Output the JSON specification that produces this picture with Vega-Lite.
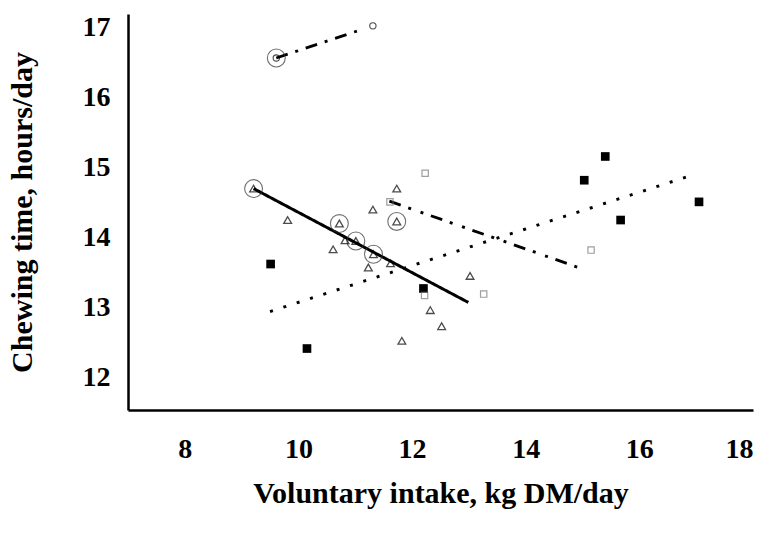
{
  "$schema": "https://vega.github.io/schema/vega-lite/v6.json",
  "width": 625,
  "height": 396,
  "autosize": {"type": "none"},
  "padding": {"left": 128, "top": 14, "right": 16, "bottom": 125},
  "background": "white",
  "config": {
    "view": {"stroke": null},
    "axis": {
      "grid": false,
      "ticks": false,
      "domainColor": "black",
      "domainWidth": 2.5,
      "labelFont": "Liberation Serif",
      "labelFontWeight": "bold",
      "labelFontSize": 28,
      "labelColor": "black",
      "titleFont": "Liberation Serif",
      "titleFontWeight": "bold",
      "titleFontSize": 30,
      "titleColor": "black"
    }
  },
  "datasets": {
    "points": [
      {"x": 9.21, "y": 14.70, "group": "A", "ring": true},
      {"x": 9.81, "y": 14.25, "group": "A", "ring": false},
      {"x": 10.72, "y": 14.20, "group": "A", "ring": true},
      {"x": 10.82, "y": 13.96, "group": "A", "ring": false},
      {"x": 11.01, "y": 13.95, "group": "A", "ring": true},
      {"x": 10.61, "y": 13.83, "group": "A", "ring": false},
      {"x": 11.32, "y": 13.76, "group": "A", "ring": true},
      {"x": 11.31, "y": 14.40, "group": "A", "ring": false},
      {"x": 11.73, "y": 14.70, "group": "A", "ring": false},
      {"x": 11.73, "y": 14.23, "group": "A", "ring": true},
      {"x": 11.23, "y": 13.57, "group": "A", "ring": false},
      {"x": 11.62, "y": 13.63, "group": "A", "ring": false},
      {"x": 13.02, "y": 13.45, "group": "A", "ring": false},
      {"x": 12.32, "y": 12.96, "group": "A", "ring": false},
      {"x": 12.52, "y": 12.73, "group": "A", "ring": false},
      {"x": 11.82, "y": 12.52, "group": "A", "ring": false},
      {"x": 9.51, "y": 13.62, "group": "B", "ring": false},
      {"x": 10.15, "y": 12.41, "group": "B", "ring": false},
      {"x": 12.20, "y": 13.27, "group": "B", "ring": false},
      {"x": 15.03, "y": 14.82, "group": "B", "ring": false},
      {"x": 15.40, "y": 15.16, "group": "B", "ring": false},
      {"x": 15.67, "y": 14.25, "group": "B", "ring": false},
      {"x": 17.05, "y": 14.51, "group": "B", "ring": false},
      {"x": 11.61, "y": 14.51, "group": "C", "ring": false},
      {"x": 12.23, "y": 14.92, "group": "C", "ring": false},
      {"x": 12.22, "y": 13.17, "group": "C", "ring": false},
      {"x": 13.26, "y": 13.19, "group": "C", "ring": false},
      {"x": 15.15, "y": 13.82, "group": "C", "ring": false},
      {"x": 9.61, "y": 16.57, "group": "D", "ring": true},
      {"x": 11.31, "y": 17.03, "group": "D", "ring": false}
    ],
    "fits": [
      {"series": "A", "x": 9.21, "y": 14.70},
      {"series": "A", "x": 12.99, "y": 13.07},
      {"series": "B", "x": 9.50, "y": 12.94},
      {"series": "B", "x": 16.92, "y": 14.89},
      {"series": "C", "x": 11.60, "y": 14.52},
      {"series": "C", "x": 14.93, "y": 13.57},
      {"series": "D", "x": 9.61, "y": 16.57},
      {"series": "D", "x": 11.12, "y": 16.98}
    ],
    "xticks": [{"v": 8}, {"v": 10}, {"v": 12}, {"v": 14}, {"v": 16}, {"v": 18}],
    "yticks": [{"v": 12}, {"v": 13}, {"v": 14}, {"v": 15}, {"v": 16}, {"v": 17}]
  },
  "encoding": {
    "x": {
      "field": "x",
      "type": "quantitative",
      "scale": {"domain": [7, 18], "nice": false, "zero": false},
      "axis": {
        "values": [8, 10, 12, 14, 16, 18],
        "labelPadding": 47,
        "labelBaseline": "alphabetic",
        "title": "Voluntary intake, kg DM/day",
        "titleY": 83,
        "titleBaseline": "middle"
      }
    },
    "y": {
      "field": "y",
      "type": "quantitative",
      "scale": {"domain": [11.53, 17.2], "nice": false, "zero": false},
      "axis": {
        "values": [12, 13, 14, 15, 16, 17],
        "labelPadding": 18,
        "title": "Chewing time, hours/day",
        "titleAngle": -90,
        "titleX": -106,
        "titleY": 198,
        "titleAlign": "center",
        "titleBaseline": "middle"
      }
    }
  },
  "layer": [
    {
      "data": {"name": "xticks"},
      "mark": {"type": "rule", "color": "black", "strokeWidth": 2.5},
      "encoding": {
        "x": {"field": "v", "type": "quantitative"},
        "y": {"datum": 11.53, "type": "quantitative"},
        "y2": {"datum": 11.645}
      }
    },
    {
      "data": {"name": "yticks"},
      "mark": {"type": "rule", "color": "black", "strokeWidth": 2.5},
      "encoding": {
        "y": {"field": "v", "type": "quantitative"},
        "x": {"datum": 7, "type": "quantitative"},
        "x2": {"datum": 7.14}
      }
    },
    {
      "data": {"name": "fits"},
      "mark": {"type": "line", "color": "black", "strokeCap": "butt"},
      "encoding": {
        "detail": {"field": "series"},
        "strokeDash": {
          "field": "series",
          "type": "nominal",
          "scale": {"domain": ["A", "B", "C", "D"], "range": [[1, 0], [3, 11], [12, 8, 3, 10, 3, 8], [12, 8, 3, 8]]},
          "legend": null
        },
        "strokeWidth": {
          "field": "series",
          "type": "nominal",
          "scale": {"domain": ["A", "B", "C", "D"], "range": [3, 2.8, 2.8, 2.8]},
          "legend": null
        }
      }
    },
    {
      "data": {"name": "points"},
      "transform": [{"filter": "datum.ring"}],
      "mark": {"type": "point", "shape": "circle", "filled": false, "size": 320, "stroke": "#333", "strokeWidth": 1.1}
    },
    {
      "data": {"name": "points"},
      "transform": [{"filter": "datum.group === 'A'"}],
      "mark": {"type": "point", "shape": "triangle-up", "filled": false, "size": 60, "stroke": "black", "strokeWidth": 1.3}
    },
    {
      "data": {"name": "points"},
      "transform": [{"filter": "datum.group === 'B'"}],
      "mark": {"type": "point", "shape": "square", "filled": true, "size": 75, "color": "black", "opacity": 1}
    },
    {
      "data": {"name": "points"},
      "transform": [{"filter": "datum.group === 'C'"}],
      "mark": {"type": "point", "shape": "square", "filled": false, "size": 40, "stroke": "#777", "strokeWidth": 1.2}
    },
    {
      "data": {"name": "points"},
      "transform": [{"filter": "datum.group === 'D'"}],
      "mark": {"type": "point", "shape": "circle", "filled": false, "size": 40, "stroke": "black", "strokeWidth": 1.1}
    }
  ]
}
